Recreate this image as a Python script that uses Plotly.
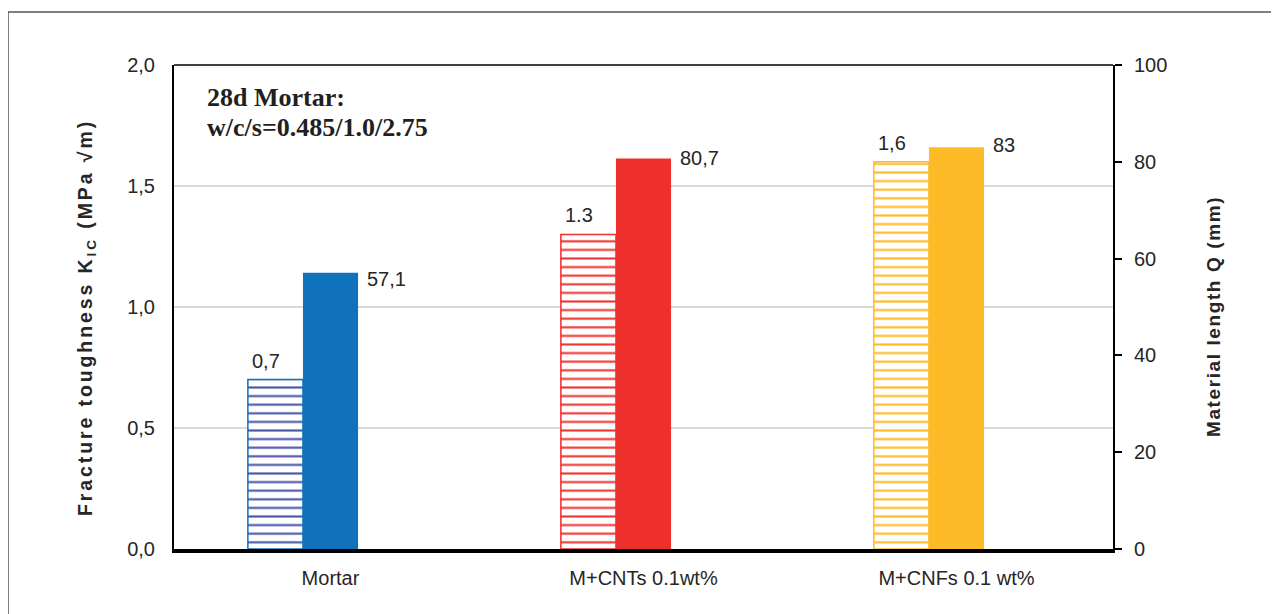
import plotly.graph_objects as go

categories = ["Mortar", "M+CNTs 0.1wt%", "M+CNFs 0.1 wt%"]
kic_values = [0.7, 1.3, 1.6]
kic_labels = ["0,7", "1.3", "1,6"]
q_values = [57.1, 80.7, 83]
q_labels = ["57,1", "80,7", "83"]
left_ticks = [0, 0.5, 1.0, 1.5, 2.0]
left_tick_text = ["0,0", "0,5", "1,0", "1,5", "2,0"]
right_ticks = [0, 20, 40, 60, 80, 100]
title_lines = ["28d Mortar:", "w/c/s=0.485/1.0/2.75"]
left_title = "Fracture toughness K<sub>IC</sub> (MPa √m)"
right_title = "Material length Q (mm)"

solid_colors = ["#0f72ba", "#ee302c", "#fdbb27"]
hatch_line_colors = ["#4d58aa", "#ee3a36", "#fdbb27"]
q_label_yshift = [-6, 0, 2]

BAR_W = 0.176
FONT = "Liberation Sans, Arial, sans-serif"
TXT = "#262626"
FS = 20

# page body has an 8px margin; compensate so the plot lands where the reference has it
OFF = 8
ML, MT = 174 - OFF, 65 - OFF
MR = 1279 - (1113 - OFF)
MB = 614 - (549 - OFF)
PW = 1279 - ML - MR
PH = 614 - MT - MB


def px_x(x):
    return (x - 174) / PW


def px_y(y):
    return 1 - (y - 65) / PH


fig = go.Figure()

for i, cat in enumerate(categories):
    fig.add_trace(go.Bar(
        x=[cat], y=[kic_values[i]], yaxis="y",
        width=BAR_W, offset=-1.5 * BAR_W,
        marker=dict(
            color="white",
            line=dict(color=solid_colors[i], width=1.5),
            pattern=dict(shape="-", size=8.6, solidity=0.25,
                         fgcolor=hatch_line_colors[i], bgcolor="white",
                         fillmode="replace"),
        ),
        showlegend=False,
    ))
    fig.add_trace(go.Bar(
        x=[cat], y=[q_values[i]], yaxis="y2",
        width=BAR_W, offset=-0.5 * BAR_W,
        marker=dict(color=solid_colors[i], line=dict(width=0)),
        showlegend=False,
    ))

annotations = []
for i, cat in enumerate(categories):
    annotations.append(dict(
        x=i - BAR_W, y=kic_values[i], xref="x", yref="y",
        text=kic_labels[i], showarrow=False, xanchor="center", yanchor="middle",
        xshift=-9, yshift=19,
        font=dict(family=FONT, size=FS, color=TXT),
    ))
    annotations.append(dict(
        x=i + 0.5 * BAR_W, y=q_values[i], xref="x", yref="y2",
        text=q_labels[i], showarrow=False, xanchor="left", yanchor="middle",
        xshift=7, yshift=q_label_yshift[i],
        font=dict(family=FONT, size=FS, color=TXT),
    ))
for k, line in enumerate(title_lines):
    annotations.append(dict(
        x=px_x(205), y=px_y(97 + 30 * k), xref="paper", yref="paper",
        text="<b>" + line + "</b>", align="left",
        showarrow=False, xanchor="left", yanchor="middle",
        font=dict(family="Liberation Serif, Times New Roman, serif", size=26, color="#231f20"),
    ))
annotations.append(dict(
    x=px_x(86), y=px_y(318), xref="paper", yref="paper", textangle=-90,
    text='<b><span style="letter-spacing:2.9px">' + left_title + '</span></b>',
    showarrow=False, xanchor="center", yanchor="middle",
    font=dict(family=FONT, size=19.5, color=TXT),
))
annotations.append(dict(
    x=px_x(1213), y=px_y(317), xref="paper", yref="paper", textangle=-90,
    text='<b><span style="letter-spacing:1.6px">' + right_title + '</span></b>',
    showarrow=False, xanchor="center", yanchor="middle",
    font=dict(family=FONT, size=19, color=TXT),
))

fig.update_layout(
    width=1279, height=614,
    margin=dict(l=ML, r=MR, t=MT, b=MB),
    paper_bgcolor="white", plot_bgcolor="white",
    barmode="overlay",
    font=dict(family=FONT, size=FS, color=TXT),
    xaxis=dict(
        type="category", categoryorder="array", categoryarray=categories,
        range=[-0.5, 2.5],
        showline=True, linecolor="black", linewidth=4,
        ticks="", showgrid=False, zeroline=False, ticklabelstandoff=8,
        tickfont=dict(family=FONT, size=FS, color=TXT),
    ),
    yaxis=dict(
        range=[0, 2.0], tickvals=left_ticks, ticktext=left_tick_text,
        showgrid=True, gridcolor="#d9d9d9", gridwidth=1.5,
        showline=True, linecolor="black", linewidth=2,
        ticks="", ticklabelstandoff=13, zeroline=False,
        tickfont=dict(family=FONT, size=FS, color=TXT),
    ),
    yaxis2=dict(
        range=[0, 100], tickvals=right_ticks, overlaying="y", side="right",
        showgrid=False, zeroline=False,
        showline=True, linecolor="black", linewidth=2,
        ticks="outside", ticklen=7, tickwidth=2, tickcolor="black",
        ticklabelstandoff=8,
        tickfont=dict(family=FONT, size=FS, color=TXT),
    ),
    annotations=annotations,
    shapes=[
        dict(type="line", xref="paper", yref="paper", x0=0, x1=1, y0=1, y1=1,
             line=dict(color="black", width=1.5)),
        dict(type="rect", xref="paper", yref="paper",
             x0=(8 - 174) / PW, x1=1.3, y0=-0.3, y1=1 + (65 - 12) / PH,
             line=dict(color="#555555", width=1.5), fillcolor="rgba(0,0,0,0)",
             layer="below"),
    ],
)

fig.write_html("out.html")
